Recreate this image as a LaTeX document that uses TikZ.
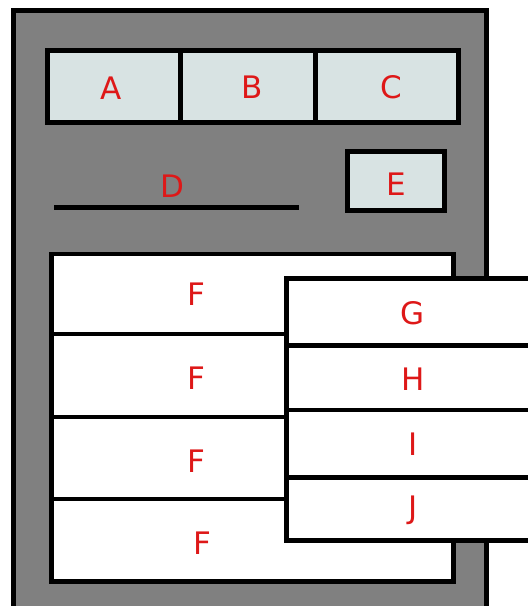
\documentclass[tikz,border=0pt]{standalone}
\usepackage{fontspec}
\setmainfont{DejaVu Sans}
\definecolor{panelgray}{RGB}{128,128,128}
\definecolor{btnfill}{RGB}{216,227,227}
\definecolor{lbl}{RGB}{222,24,24}
\begin{document}
\begin{tikzpicture}[x=1pt,y=-1pt,
  frame/.style={draw=black,line width=5pt},
  btn/.style={frame,fill=btnfill},
  row/.style={draw=black,line width=4.5pt,fill=white},
  lab/.style={text=lbl,font=\fontsize{31}{31}\selectfont,anchor=base,inner sep=0pt}]
\useasboundingbox (0,0) rectangle (528,606);
\clip (0,0) rectangle (528,606);
% outer panel
\draw[frame,fill=panelgray] (13.5,10.5) rectangle (486.5,610);
% buttons
\draw[btn] (47.5,50.5) rectangle (180,122.5);
\draw[btn] (180,50.5) rectangle (315.5,122.5);
\draw[btn] (315.5,50.5) rectangle (458.5,122.5);
\node[lab] (A) at (111,99) {A};
\node[lab] (B) at (252.5,98) {B};
\node[lab] (C) at (391,98) {C};
% D
\node[lab] (D) at (172,197) {D};
\coordinate (d1) at (54,207.5);
\coordinate (d2) at (299,207.5);
\draw[line width=4.5pt] (d1) -- (d2);
% E
\draw[btn] (347.5,151.5) rectangle (444.5,210.5);
\node[lab] (E) at (396.5,195) {E};
% F rows
\draw[row] (51.5,254) rectangle (453.5,334);
\draw[row] (51.5,334) rectangle (453.5,417);
\draw[row] (51.5,417) rectangle (453.5,499);
\draw[row] (51.5,499) rectangle (453.5,581.5);
\node[lab] (F1) at (196,305) {F};
\node[lab] (F2) at (196,389) {F};
\node[lab] (F3) at (196,472) {F};
\node[lab] (F4) at (202,554) {F};
% G-J panel
\draw[row] (286.5,278.5) rectangle (540,345.5);
\draw[row] (286.5,345.5) rectangle (540,410);
\draw[row] (286.5,410) rectangle (540,477.5);
\draw[row] (286.5,477.5) rectangle (540,540.5);
\node[lab] (G) at (413,324) {G};
\node[lab] (H) at (413,390) {H};
\node[lab] (I) at (413,455) {I};
\node[lab] (J) at (413,518) {J};
\end{tikzpicture}
\end{document}
